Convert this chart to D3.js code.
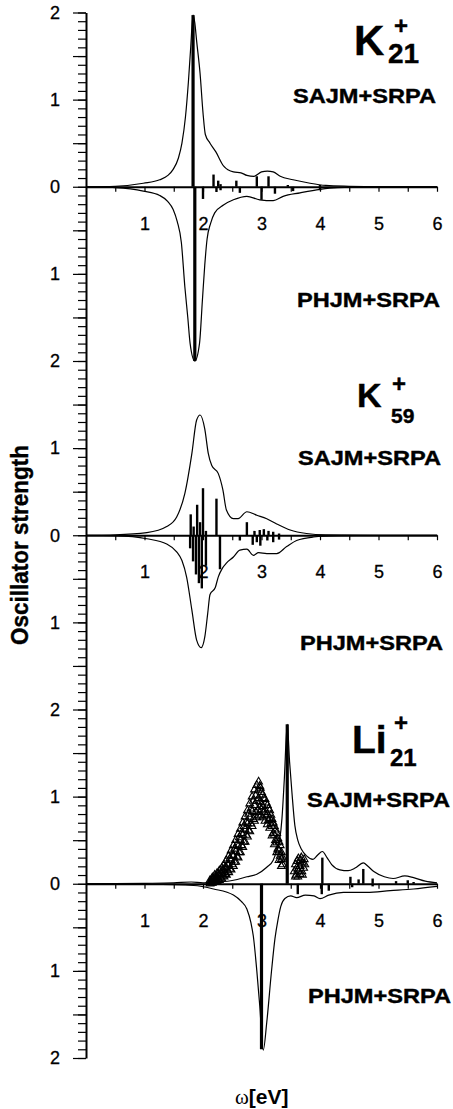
<!DOCTYPE html>
<html>
<head>
<meta charset="utf-8">
<script src="https://d3js.org/d3.v7.min.js"></script>
<style>
  html, body { margin: 0; padding: 0; background: #fff; }
  svg { display: block; font-family: "Liberation Sans", Arial, sans-serif; }
</style>
</head>
<body>
<div id="chart"></div>
<script>
// Oscillator strength spectra: K21+, K59+, Li21+ (SAJM vs PHJM, both with SRPA)

// --- tick labels ---
const xTickLabels = [1, 2, 3, 4, 5, 6];
const yTickLabels = [2, 1, 0, 1, 2, 1, 0, 1, 2, 1, 0, 1, 2];

// --- K21+ ---
const k21Sajm = [[0,0],[0.5,0.005],[0.98,0.04],[1.26,0.08],[1.4,0.13],[1.49,0.2],[1.58,0.33],[1.64,0.5],[1.7,0.8],[1.75,1.2],[1.79,1.6],[1.83,1.97],[1.86,1.88],[1.89,1.68],[1.95,1.3],[2.0,0.85],[2.04,0.6],[2.12,0.5],[2.22,0.4],[2.35,0.24],[2.52,0.17],[2.65,0.16],[2.75,0.13],[2.87,0.12],[3.0,0.17],[3.1,0.18],[3.2,0.17],[3.32,0.12],[3.54,0.08],[3.83,0.04],[4.1,0.015],[4.5,0.005],[5,0],[6,0]];
const k21Phjm = [[0,0],[0.5,0.01],[0.98,0.05],[1.26,0.1],[1.4,0.17],[1.49,0.26],[1.56,0.4],[1.63,0.64],[1.69,1.15],[1.74,1.5],[1.78,1.8],[1.86,2.0],[1.94,1.8],[1.99,1.3],[2.03,0.9],[2.07,0.6],[2.13,0.42],[2.2,0.3],[2.35,0.21],[2.52,0.15],[2.75,0.11],[2.97,0.15],[3.2,0.16],[3.37,0.11],[3.66,0.07],[4.0,0.03],[4.3,0.01],[5,0],[6,0]];
const k21SajmSticks = [[1.83,1.97],[2.18,0.14],[2.26,0.07],[2.3,0.03],[2.57,0.07],[2.92,0.12],[3.12,0.12],[3.45,0.02],[4.0,0.02]];
const k21PhjmSticks = [[1.86,2.0],[2.0,0.14],[2.23,0.06],[2.3,0.04],[2.63,0.07],[3.0,0.15],[3.23,0.08],[3.54,0.05],[4.0,0.04]];

// --- K59+ ---
const k59Sajm = [[0,0],[0.5,0.005],[1.04,0.03],[1.38,0.1],[1.55,0.21],[1.69,0.48],[1.81,0.94],[1.89,1.32],[1.95,1.38],[2.03,1.22],[2.09,0.94],[2.15,0.8],[2.26,0.71],[2.34,0.52],[2.4,0.29],[2.52,0.19],[2.6,0.19],[2.75,0.27],[2.92,0.23],[3.09,0.19],[3.26,0.13],[3.49,0.06],[3.77,0.02],[4.1,0.005],[5,0],[6,0]];
const k59Phjm = [[0,0],[0.5,0.005],[1.04,0.04],[1.38,0.1],[1.55,0.19],[1.64,0.29],[1.72,0.48],[1.81,0.86],[1.89,1.2],[1.97,1.29],[2.03,1.17],[2.08,0.9],[2.12,0.68],[2.21,0.6],[2.26,0.48],[2.33,0.38],[2.4,0.32],[2.52,0.25],[2.63,0.17],[2.75,0.16],[2.86,0.23],[2.95,0.2],[3.09,0.21],[3.26,0.21],[3.43,0.13],[3.6,0.06],[3.89,0.02],[4.3,0.005],[5,0],[6,0]];
const k59SajmSticks = [[1.79,0.24],[1.84,0.1],[1.9,0.35],[1.95,0.15],[2.0,0.54],[2.05,0.05],[2.23,0.42],[2.75,0.15],[2.88,0.05],[2.97,0.06],[3.04,0.07],[3.12,0.05],[3.2,0.04],[3.3,0.02]];
const k59PhjmSticks = [[1.78,0.15],[1.83,0.3],[1.88,0.45],[1.93,0.55],[1.98,0.61],[2.05,0.35],[2.29,0.39],[2.63,0.06],[2.85,0.11],[2.92,0.08],[2.98,0.12],[3.1,0.06],[3.2,0.08],[3.3,0.05]];

// --- Li21+ ---
const li21Sajm = [[0,0],[1.0,0.005],[1.5,0.01],[1.8,0.02],[2.0,0.01],[2.29,0.02],[2.52,0.04],[2.75,0.08],[2.92,0.11],[3.09,0.19],[3.2,0.27],[3.26,0.38],[3.31,0.5],[3.35,0.75],[3.39,1.2],[3.44,1.83],[3.48,1.4],[3.52,1.05],[3.57,0.67],[3.62,0.5],[3.68,0.4],[3.77,0.32],[3.88,0.28],[3.96,0.33],[4.04,0.37],[4.12,0.3],[4.2,0.22],[4.34,0.16],[4.48,0.15],[4.6,0.18],[4.74,0.24],[4.82,0.2],[4.92,0.14],[5.1,0.08],[5.25,0.06],[5.45,0.09],[5.6,0.07],[5.8,0.03],[6,0.01]];
const li21Phjm = [[0,0],[1.0,0.005],[1.84,0.02],[2.18,0.06],[2.52,0.13],[2.65,0.2],[2.75,0.29],[2.82,0.45],[2.86,0.6],[2.92,1.0],[2.97,1.4],[3.03,1.91],[3.09,1.59],[3.17,1.01],[3.23,0.63],[3.28,0.42],[3.33,0.26],[3.4,0.17],[3.5,0.14],[3.6,0.16],[3.75,0.13],[3.9,0.14],[4.0,0.17],[4.15,0.13],[4.4,0.1],[4.8,0.1],[5.2,0.08],[5.6,0.06],[6,0.03]];
const li21SajmSticks = [[3.44,1.83],[4.04,0.3],[4.52,0.08],[4.66,0.05],[4.74,0.17],[4.9,0.06],[5.3,0.03],[5.5,0.04],[5.6,0.02]];
const li21PhjmSticks = [[3.0,1.9],[3.62,0.12],[4.03,0.12],[4.15,0.08],[4.55,0.04],[4.9,0.03]];

// experiment (open triangles), main cloud read as rows
const expX     = [2.12,2.16,2.20,2.24,2.28,2.32,2.36,2.40,2.44,2.48,2.52,2.56,2.60,2.64,2.68,2.72,2.76,2.80,2.84,2.88,2.92,2.95,2.98,3.02,3.06,3.10,3.14,3.18,3.22,3.26,3.30,3.34];
const expUpper = [0.04,0.07,0.10,0.12,0.15,0.18,0.22,0.27,0.32,0.38,0.44,0.50,0.57,0.63,0.70,0.77,0.84,0.92,1.00,1.08,1.13,1.17,1.10,1.02,0.97,0.90,0.84,0.74,0.66,0.58,0.48,0.36];
const expMid   = [0.02,0.04,0.05,0.08,0.10,0.12,0.15,0.18,0.22,0.27,0.32,0.37,0.43,0.50,0.56,0.62,0.69,0.76,0.83,0.90,0.95,0.98,0.94,0.89,0.85,0.80,0.75,0.66,0.56,0.47,0.38,0.28];
const expLower = [0.00,0.01,0.02,0.03,0.04,0.06,0.08,0.10,0.13,0.16,0.20,0.25,0.30,0.36,0.42,0.48,0.54,0.60,0.66,0.72,0.76,0.78,0.78,0.76,0.72,0.68,0.64,0.55,0.45,0.36,0.27,0.20];
// interleaved readings between the rows above
const expXb    = [2.14,2.18,2.22,2.26,2.30,2.34,2.38,2.42,2.46,2.50,2.54,2.58,2.62,2.66,2.70,2.74,2.78,2.82,2.86,2.90,2.94,2.97,3.00,3.04,3.08,3.12,3.16,3.20,3.24,3.28,3.32,3.36];
const expRowB  = [0.03,0.06,0.07,0.11,0.12,0.16,0.19,0.22,0.29,0.33,0.40,0.45,0.53,0.58,0.66,0.71,0.80,0.86,0.95,1.01,1.07,1.12,1.05,0.98,0.93,0.86,0.79,0.70,0.62,0.52,0.44,0.30];
const expRowC  = [0.01,0.02,0.04,0.05,0.07,0.09,0.11,0.15,0.17,0.22,0.25,0.31,0.36,0.44,0.48,0.56,0.61,0.69,0.74,0.82,0.85,0.88,0.85,0.82,0.78,0.73,0.69,0.58,0.50,0.40,0.32,0.22];
// small cluster above 3.6 eV
const exp2X = [3.56,3.58,3.59,3.61,3.62,3.63,3.65,3.66,3.67,3.69,3.70,3.72,3.73,3.58,3.62,3.66,3.70,3.74,3.60,3.64,3.68];
const exp2Y = [0.14,0.22,0.10,0.26,0.16,0.29,0.20,0.11,0.27,0.14,0.24,0.18,0.28,0.08,0.08,0.20,0.10,0.22,0.18,0.14,0.30];

const width = 453, height = 1109;
const svg = d3.select("#chart").append("svg")
    .attr("width", width).attr("height", height);

const x = d3.scaleLinear().domain([0, 6]).range([86, 437]);
// one continuous vertical axis, 12 units (three mirrored panels)
const yU = d3.scaleLinear().domain([0, 12]).range([12.5, 1058]);

const panels = [
    { zero: 2,  up: k21Sajm, down: k21Phjm, upSticks: k21SajmSticks, downSticks: k21PhjmSticks,
      atom: "K", n: "21", atomSize: 42, nSize: 28, atomX: 354, atomY: 55, plusX: 394, plusY: 34, nX: 388, nY: 63,
      sajm: [293, 103], phjm: [297, 307] },
    { zero: 6,  up: k59Sajm, down: k59Phjm, upSticks: k59SajmSticks, downSticks: k59PhjmSticks,
      atom: "K", n: "59", atomSize: 34, nSize: 21, atomX: 357, atomY: 407, plusX: 392, plusY: 392, nX: 391, nY: 423,
      sajm: [298, 465], phjm: [300, 650] },
    { zero: 10, up: li21Sajm, down: li21Phjm, upSticks: li21SajmSticks, downSticks: li21PhjmSticks,
      atom: "Li", n: "21", atomSize: 39, nSize: 24, atomX: 352, atomY: 753, plusX: 394, plusY: 731, nX: 390, nY: 766,
      sajm: [307, 807], phjm: [308, 1003] }
];

// --- Y axis: minor ticks every 0.1, major every 0.5, labels at integers ---
const minorVals = d3.range(0, 121).map(i => i / 10);
const majorVals = d3.range(0, 25).map(i => i / 2);

svg.append("g")
    .attr("transform", "translate(86,0)")
    .call(d3.axisLeft(yU).tickValues(minorVals).tickSize(8).tickSizeOuter(0).tickFormat(""))
    .call(g => g.select(".domain").attr("stroke-width", 2))
    .call(g => g.selectAll(".tick line").attr("stroke-width", 1.2));

svg.append("g")
    .attr("transform", "translate(86,0)")
    .call(d3.axisLeft(yU).tickValues(majorVals).tickSize(13).tickSizeOuter(0).tickPadding(13)
        .tickFormat(d => Number.isInteger(d) ? yTickLabels[d] : ""))
    .call(g => g.select(".domain").remove())
    .call(g => g.selectAll(".tick line").attr("stroke-width", 1.2))
    .call(g => g.selectAll("text").attr("font-size", 18).attr("font-family", "'Liberation Sans', Arial, sans-serif")
        .attr("fill", "#000").attr("stroke", "#000").attr("stroke-width", 0.3));

const line = d3.line().curve(d3.curveMonotoneX);

panels.forEach(p => {
    const y0 = yU(p.zero);
    const yUp = v => yU(p.zero - v);
    const yDn = v => yU(p.zero + v);

    // x axis on the zero line
    svg.append("g")
        .attr("transform", `translate(0,${y0})`)
        .call(d3.axisBottom(x).tickValues(d3.range(1, 13).map(i => i / 2)).tickSize(5).tickSizeOuter(0).tickPadding(25)
            .tickFormat(d => xTickLabels.includes(d) ? d : ""))
        .call(g => g.select(".domain").attr("stroke-width", 2))
        .call(g => g.selectAll(".tick line").attr("stroke-width", 1.2))
        .call(g => g.selectAll("text").attr("font-size", 18).attr("font-family", "'Liberation Sans', Arial, sans-serif")
            .attr("fill", "#000").attr("stroke", "#000").attr("stroke-width", 0.3));

    // sticks
    svg.append("g").selectAll("line.up")
        .data(p.upSticks).join("line")
        .attr("x1", d => x(d[0])).attr("x2", d => x(d[0]))
        .attr("y1", y0).attr("y2", d => yUp(d[1]))
        .attr("stroke", "#000").attr("stroke-width", d => d[1] > 1 ? 3.2 : 2.4);
    svg.append("g").selectAll("line.dn")
        .data(p.downSticks).join("line")
        .attr("x1", d => x(d[0])).attr("x2", d => x(d[0]))
        .attr("y1", y0).attr("y2", d => yDn(d[1]))
        .attr("stroke", "#000").attr("stroke-width", d => d[1] > 1 ? 3.2 : 2.4);

    // spectra
    svg.append("path")
        .attr("d", line(p.up.map(d => [x(d[0]), yUp(d[1])])))
        .attr("fill", "none").attr("stroke", "#000").attr("stroke-width", 1.2);
    svg.append("path")
        .attr("d", line(p.down.map(d => [x(d[0]), yDn(d[1])])))
        .attr("fill", "none").attr("stroke", "#000").attr("stroke-width", 1.2);

    // labels
    const lab = svg.append("g").attr("font-weight", "bold").attr("fill", "#000")
        .attr("stroke", "#000").attr("stroke-width", 0.4);
    lab.append("text").attr("x", p.atomX).attr("y", p.atomY).attr("font-size", p.atomSize).text(p.atom);
    lab.append("text").attr("x", p.plusX).attr("y", p.plusY).attr("font-size", 24).text("+");
    lab.append("text").attr("x", p.nX).attr("y", p.nY).attr("font-size", p.nSize).text(p.n);
    lab.append("text").attr("x", p.sajm[0]).attr("y", p.sajm[1]).attr("font-size", 20)
        .attr("textLength", 143).attr("lengthAdjust", "spacingAndGlyphs").text("SAJM+SRPA");
    lab.append("text").attr("x", p.phjm[0]).attr("y", p.phjm[1]).attr("font-size", 20)
        .attr("textLength", 143).attr("lengthAdjust", "spacingAndGlyphs").text("PHJM+SRPA");

    if (p.atom === "Li") {
        const tri = d3.symbol(d3.symbolTriangle, 26);
        const pts = [];
        expX.forEach((e, i) => pts.push([e, expUpper[i]], [e, expMid[i]], [e, expLower[i]]));
        expXb.forEach((e, i) => pts.push([e, expRowB[i]], [e, expRowC[i]]));
        exp2X.forEach((e, i) => pts.push([e, exp2Y[i]]));
        svg.append("g").selectAll("path")
            .data(pts).join("path")
            .attr("d", tri)
            .attr("transform", d => `translate(${x(d[0])},${yUp(d[1])})`)
            .attr("fill", "none").attr("stroke", "#000").attr("stroke-width", 1.1);
    }
});

// axis titles
svg.append("text")
    .attr("transform", "translate(28,545) rotate(-90)")
    .attr("text-anchor", "middle")
    .attr("font-size", 23).attr("font-weight", "bold")
    .attr("stroke", "#000").attr("stroke-width", 0.4)
    .attr("textLength", 200).attr("lengthAdjust", "spacingAndGlyphs")
    .text("Oscillator strength");

const xt = svg.append("text")
    .attr("x", 235).attr("y", 1104)
    .attr("font-size", 21).attr("font-weight", "bold");
xt.append("tspan").attr("font-family", "'Liberation Serif', 'Times New Roman', serif").attr("font-weight", "normal").text("ω");
xt.append("tspan").text("[eV]");
</script>
</body>
</html>
